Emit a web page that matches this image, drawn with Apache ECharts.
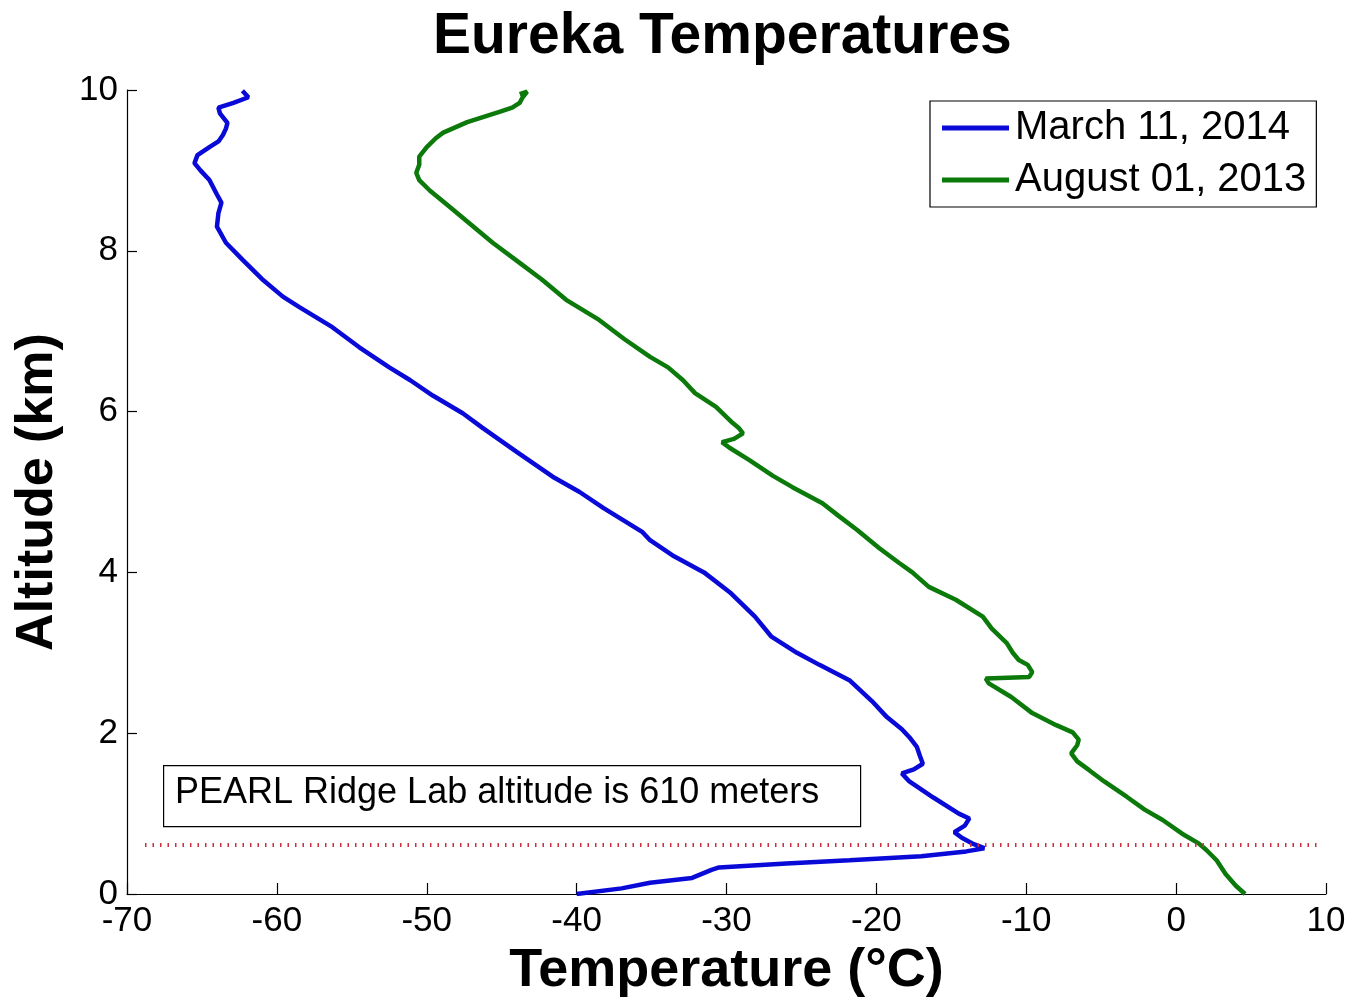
<!DOCTYPE html>
<html>
<head>
<meta charset="utf-8">
<script src="https://cdn.jsdelivr.net/npm/echarts@6/dist/echarts.min.js"></script>
<style>
html,body{margin:0;padding:0;background:#fff;}
#chart{width:1353px;height:998px;}
</style>
</head>
<body>
<div id="chart"></div>
<script>
// ---- Data ----
var xTicks = [-70, -60, -50, -40, -30, -20, -10, 0, 10];
var yTicks = [0, 2, 4, 6, 8, 10];

var marchLabel = 'March 11, 2014';
var marchAlt  = [0.00, 0.07, 0.14, 0.20, 0.30, 0.33, 0.38, 0.42, 0.47, 0.53, 0.57, 0.62, 0.70, 0.77, 0.85, 0.94, 1.00, 1.20, 1.40, 1.50, 1.55, 1.62, 1.72, 1.83, 1.95, 2.05, 2.20, 2.40, 2.66, 2.85, 3.00, 3.20, 3.45, 3.74, 4.00, 4.20, 4.40, 4.50, 4.80, 5.00, 5.19, 5.50, 5.80, 5.98, 6.20, 6.39, 6.55, 6.80, 7.05, 7.30, 7.43, 7.65, 7.89, 8.10, 8.30, 8.47, 8.60, 8.70, 8.88, 9.00, 9.09, 9.19, 9.29, 9.36, 9.44, 9.52, 9.59, 9.71, 9.78, 9.84, 9.91, 9.99];
var marchTemp = [-40.0, -37.0, -35.1, -32.3, -31.0, -30.5, -26.0, -21.8, -17.0, -14.0, -12.8, -13.5, -14.3, -14.8, -14.1, -13.8, -14.5, -16.2, -17.8, -18.3, -17.5, -16.9, -17.1, -17.3, -17.8, -18.3, -19.3, -20.3, -21.8, -23.8, -25.3, -27.0, -28.1, -29.7, -31.5, -33.5, -35.1, -35.6, -38.2, -39.8, -41.6, -44.0, -46.3, -47.6, -49.6, -51.1, -52.5, -54.5, -56.3, -58.5, -59.6, -61.0, -62.3, -63.4, -64.0, -63.9, -63.7, -64.0, -64.5, -65.1, -65.5, -65.3, -64.5, -63.9, -63.6, -63.4, -63.3, -63.8, -63.9, -62.9, -61.9, -62.3];

var augLabel = 'August 01, 2013';
var augAlt  = [0.00, 0.10, 0.25, 0.42, 0.55, 0.63, 0.75, 0.92, 1.05, 1.21, 1.40, 1.54, 1.65, 1.75, 1.85, 1.92, 2.01, 2.10, 2.25, 2.45, 2.62, 2.68, 2.70, 2.76, 2.85, 2.91, 3.00, 3.12, 3.30, 3.45, 3.66, 3.82, 4.00, 4.12, 4.30, 4.53, 4.70, 4.86, 5.06, 5.20, 5.40, 5.55, 5.62, 5.66, 5.73, 5.80, 5.86, 6.06, 6.23, 6.39, 6.55, 6.68, 6.90, 7.14, 7.39, 7.64, 7.85, 8.10, 8.35, 8.55, 8.75, 8.88, 8.97, 9.07, 9.17, 9.29, 9.40, 9.47, 9.60, 9.73, 9.78, 9.84, 9.91, 9.98, 9.95];
var augTemp = [4.6, 4.0, 3.3, 2.7, 2.0, 1.5, 0.4, -0.9, -2.1, -3.3, -4.8, -5.8, -6.6, -7.0, -6.6, -6.5, -6.9, -8.0, -9.6, -11.0, -12.5, -12.7, -9.8, -9.6, -9.9, -10.5, -10.9, -11.3, -12.3, -12.9, -14.7, -16.5, -17.6, -18.5, -19.8, -21.3, -22.5, -23.6, -25.6, -26.9, -28.5, -29.8, -30.3, -29.5, -28.9, -29.2, -29.6, -30.7, -32.1, -32.9, -33.9, -35.1, -36.8, -38.5, -40.7, -42.3, -43.8, -45.6, -47.2, -48.5, -49.8, -50.5, -50.7, -50.5, -50.5, -50.0, -49.4, -48.9, -47.3, -45.1, -44.3, -43.8, -43.6, -43.3, -43.8];

var pearlAlt  = [0.61, 0.61];
var pearlTemp = [-68.8, 9.7];
var pearlNote = 'PEARL Ridge Lab altitude is 610 meters';

function zip(xs, ys) { return xs.map(function (x, i) { return [x, ys[i]]; }); }

var FONT = 'Liberation Sans, Arial, Helvetica, sans-serif';
var chart = echarts.init(document.getElementById('chart'), null, {renderer: 'canvas'});
chart.setOption({
  animation: false,
  backgroundColor: '#ffffff',
  title: {
    text: 'Eureka Temperatures',
    left: 433, top: 9, padding: 0,
    textStyle: {fontFamily: FONT, fontSize: 57, fontWeight: 'bold', color: '#000'}
  },
  legend: {
    data: [marchLabel, augLabel],
    orient: 'vertical',
    left: 930, top: 101,
    padding: [5, 10, 5, 12],
    itemGap: 8,
    itemWidth: 67, itemHeight: 5,
    icon: 'rect',
    borderColor: '#000', borderWidth: 1.2,
    textStyle: {fontFamily: FONT, fontSize: 40, color: '#000', lineHeight: 44, padding: [0, 0, 0, 1]}
  },
  grid: {left: 127, right: 27, top: 90, bottom: 104, containLabel: false, outerBoundsMode: 'none'},
  xAxis: {
    type: 'value', min: -70, max: 10, interval: 10,
    name: 'Temperature (°C)', nameLocation: 'middle', nameGap: 46,
    nameTextStyle: {fontFamily: FONT, fontSize: 54, fontWeight: 'bold', color: '#000'},
    axisLine: {show: true, onZero: false, lineStyle: {color: '#000', width: 1.2}},
    axisTick: {show: true, inside: true, length: 11, lineStyle: {color: '#000', width: 1.2}},
    axisLabel: {fontFamily: FONT, fontSize: 35, color: '#000', margin: 10,
      customValues: xTicks},
    splitLine: {show: false}
  },
  yAxis: {
    type: 'value', min: 0, max: 10, interval: 2,
    name: 'Altitude (km)', nameLocation: 'middle', nameGap: 63, nameRotate: 90,
    nameTextStyle: {fontFamily: FONT, fontSize: 52, fontWeight: 'bold', color: '#000'},
    axisLine: {show: true, onZero: false, lineStyle: {color: '#000', width: 1.2}},
    axisTick: {show: true, inside: true, length: 10, lineStyle: {color: '#000', width: 1.2}},
    axisLabel: {fontFamily: FONT, fontSize: 35, color: '#000', margin: 9},
    splitLine: {show: false}
  },
  graphic: [
    {type: 'rect', left: 163, top: 765, z: 50,
      shape: {width: 697, height: 61},
      style: {fill: '#fff', stroke: '#000', lineWidth: 1.2}},
    {type: 'text', left: 175, top: 775, z: 51,
      style: {text: pearlNote, font: '36px ' + FONT, fill: '#000'}}
  ],
  series: [
    {name: marchLabel, type: 'line', data: zip(marchTemp, marchAlt), showSymbol: false,
      color: '#0a0ad8', lineStyle: {width: 4.5, color: '#0a0ad8'}, z: 3},
    {name: augLabel, type: 'line', data: zip(augTemp, augAlt), showSymbol: false,
      color: '#0b7a0b', lineStyle: {width: 4.5, color: '#0b7a0b'}, z: 3},
    {name: 'PEARL', type: 'line', data: zip(pearlTemp, pearlAlt), showSymbol: false,
      color: '#c8323c', lineStyle: {width: 4, type: [1.5, 6], color: '#c8323c'}, z: 4}
  ]
});
</script>
</body>
</html>
